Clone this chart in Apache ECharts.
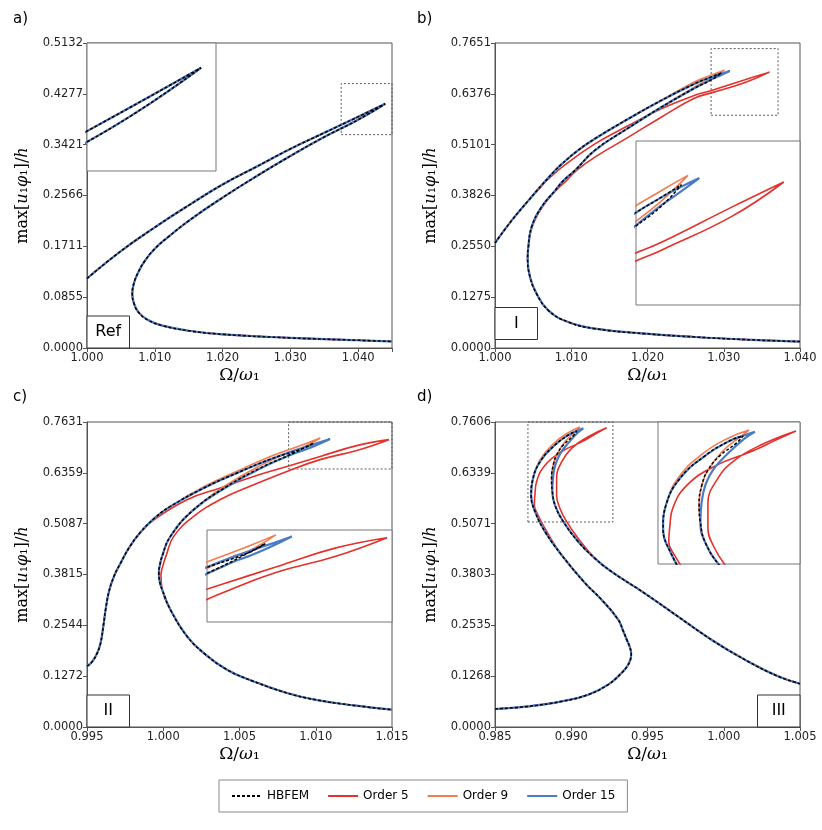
<!DOCTYPE html>
<html><head><meta charset="utf-8">
<script src="https://cdn.jsdelivr.net/npm/echarts@6/dist/echarts.min.js"></script>
<style>html,body{margin:0;padding:0;background:#fff}#c{width:822px;height:830px}</style>
</head><body><div id="c"></div>
<script>
// ---------- tick labels ----------
const aXTicks = ['1.000','1.010','1.020','1.030','1.040'];
const bXTicks = ['1.000','1.010','1.020','1.030','1.040'];
const cXTicks = ['0.995','1.000','1.005','1.010','1.015'];
const dXTicks = ['0.985','0.990','0.995','1.000','1.005'];
const aYTicks = ['0.0000','0.0855','0.1711','0.2566','0.3421','0.4277','0.5132'];
const bYTicks = ['0.0000','0.1275','0.2550','0.3826','0.5101','0.6376','0.7651'];
const cYTicks = ['0.0000','0.1272','0.2544','0.3815','0.5087','0.6359','0.7631'];
const dYTicks = ['0.0000','0.1268','0.2535','0.3803','0.5071','0.6339','0.7606'];
const legendNames = ['HBFEM','Order 5','Order 9','Order 15'];

// ---------- panel a (Ref): all models coincide ----------
const a_upper = [[1.000,0.117],[1.005,0.163],[1.010,0.203],[1.015,0.240],[1.020,0.275],[1.025,0.305],[1.030,0.335],[1.035,0.362],[1.040,0.389],[1.044,0.411]];
const a_return = [[1.040,0.384],[1.035,0.355],[1.030,0.323],[1.025,0.289],[1.020,0.253],[1.015,0.214],[1.012,0.187],[1.010,0.167],[1.0085,0.146],[1.0075,0.126],[1.0069,0.108],[1.00668,0.0915],[1.0069,0.076],[1.0076,0.060],[1.009,0.047],[1.011,0.038],[1.015,0.029],[1.020,0.023],[1.030,0.017],[1.040,0.013],[1.045,0.011]];

// ---------- panel b (I) ----------
const b_upper = [[1.0000,0.2634],[1.0022,0.3202],[1.0044,0.3703],[1.0061,0.4080],[1.0079,0.4456],[1.0087,0.4605],[1.0108,0.4945],[1.0131,0.525],[1.0175,0.575],[1.0218,0.621]];
const b_top_hbfem = [[1.0262,0.663],[1.0284,0.680],[1.0297,0.690],[1.0284,0.673],[1.0262,0.652]];
const b_top_o9 = [[1.0262,0.668],[1.0284,0.685],[1.0301,0.697],[1.0284,0.677],[1.0262,0.655]];
const b_top_o15 = [[1.0262,0.663],[1.0284,0.680],[1.0308,0.695],[1.0290,0.679],[1.0284,0.674],[1.0262,0.652]];
const b_returnMid = [[1.0218,0.604],[1.0175,0.552],[1.0131,0.496],[1.0105,0.4456],[1.0090,0.4205],[1.0079,0.3954],[1.0061,0.3536],[1.0048,0.3035]];
const b_tail = [[1.00437,0.2533],[1.00428,0.224],[1.00459,0.178],[1.00546,0.136],[1.00699,0.0945],[1.0096,0.065],[1.0131,0.0485],[1.0197,0.036],[1.0262,0.0276],[1.033,0.021],[1.040,0.016]];
const b_o5_loop = [[1.0062,0.408],[1.0068,0.4205],[1.0092,0.460],[1.0131,0.512],[1.0175,0.558],[1.0218,0.600],[1.0262,0.634],[1.0284,0.646],[1.0328,0.673],[1.0360,0.692],[1.0328,0.666],[1.0284,0.640],[1.0262,0.627],[1.0218,0.579],[1.0175,0.529],[1.0131,0.479],[1.0107,0.4456],[1.0094,0.4205],[1.0080,0.3954],[1.0062,0.3536],[1.00487,0.3035]];

// ---------- panel c (II) ----------
const c_upper = [[0.9950,0.152],[0.99535,0.164],[0.99567,0.185],[0.99589,0.210],[0.99607,0.252],[0.99622,0.2935],[0.99644,0.339],[0.99677,0.377],[0.9972,0.410],[0.9978,0.451],[0.9985,0.487],[0.9995,0.525],[1.00047,0.552]];
const c_top_hbfem = [[1.00266,0.598],[1.00484,0.6355],[1.00702,0.670],[1.0092,0.6975],[1.00986,0.7106],[1.00855,0.6855],[1.00636,0.648],[1.00418,0.602]];
const c_top_o9 = [[1.00266,0.601],[1.00484,0.640],[1.00702,0.677],[1.0092,0.707],[1.01029,0.723],[1.0092,0.700],[1.00855,0.692],[1.00636,0.654],[1.00418,0.606]];
const c_top_o15 = [[1.00266,0.598],[1.00484,0.6355],[1.00702,0.670],[1.0092,0.6995],[1.0100,0.709],[1.01094,0.7206],[1.0100,0.7045],[1.0092,0.6925],[1.00855,0.684],[1.00636,0.647],[1.00418,0.601]];
const c_returnMid = [[1.0020,0.5437],[1.00047,0.477],[0.99995,0.430],[0.99975,0.400],[0.99971,0.385],[0.99978,0.362],[0.99993,0.3435]];
const c_tail = [[1.00047,0.2935],[1.00156,0.2267],[1.00266,0.185],[1.00418,0.1434],[1.00593,0.114],[1.00811,0.085],[1.0100,0.068],[1.0125,0.054],[1.0150,0.0433]];
const c_o5_loop = [[0.9993,0.516],[1.00156,0.5687],[1.00374,0.598],[1.00593,0.627],[1.00811,0.652],[1.01029,0.677],[1.01269,0.704],[1.0148,0.719],[1.01269,0.692],[1.01029,0.669],[1.00811,0.6395],[1.00593,0.606],[1.00374,0.569],[1.0020,0.527],[1.00069,0.477],[1.0002,0.430],[0.99995,0.400],[0.99985,0.380],[0.99993,0.3435]];

// ---------- panel d (III) ----------
const d_head = [[0.9850,0.0449],[0.98718,0.0514],[0.98937,0.0639],[0.99111,0.0806],[0.99242,0.1055],[0.9933,0.1347],[0.99368,0.152],[0.99388,0.168],[0.99393,0.182],[0.99385,0.198],[0.99365,0.217],[0.99340,0.240],[0.99308,0.2676],[0.99199,0.3175],[0.9909,0.3591],[0.98937,0.4288]];
const d_top_hbfem = [[0.98828,0.4871],[0.98765,0.535],[0.98737,0.578],[0.98748,0.618],[0.988,0.664],[0.98893,0.7031],[0.9898,0.7281],[0.99035,0.7381],[0.99013,0.7264],[0.98948,0.7031],[0.98904,0.6782],[0.98882,0.6532],[0.98871,0.620],[0.98876,0.5868],[0.98893,0.5535],[0.98948,0.512],[0.99046,0.4622]];
const d_top_o9 = [[0.98828,0.4871],[0.98765,0.535],[0.98737,0.578],[0.98748,0.618],[0.98795,0.666],[0.98885,0.707],[0.98975,0.733],[0.99057,0.748],[0.9903,0.738],[0.9896,0.712],[0.98904,0.6782],[0.98882,0.6532],[0.98871,0.620],[0.98876,0.5868],[0.98893,0.5535],[0.98948,0.512],[0.99046,0.4622]];
const d_top_o15 = [[0.98828,0.4871],[0.98765,0.535],[0.98737,0.578],[0.98748,0.618],[0.988,0.664],[0.98893,0.7031],[0.9898,0.7281],[0.9904,0.739],[0.99079,0.745],[0.9904,0.733],[0.9898,0.708],[0.98925,0.680],[0.98895,0.653],[0.9888,0.620],[0.98876,0.5868],[0.98893,0.5535],[0.98948,0.512],[0.99046,0.4622]];
const d_top_o5 = [[0.9884,0.487],[0.9878,0.530],[0.98758,0.5536],[0.98762,0.580],[0.98773,0.612],[0.98828,0.653],[0.98937,0.687],[0.99068,0.711],[0.99155,0.730],[0.99232,0.7464],[0.99111,0.724],[0.99002,0.695],[0.98937,0.661],[0.98904,0.620],[0.98904,0.578],[0.98926,0.545],[0.9897,0.512],[0.99046,0.470]];
const d_tail = [[0.99155,0.4206],[0.99264,0.3874],[0.99482,0.3333],[0.99701,0.2751],[0.99919,0.2177],[1.00138,0.168],[1.00356,0.1263],[1.005,0.108]];

// ---------- assembled curves ----------
const a_curve = a_upper.concat(a_return);
const curves = {
  a: {hbfem: a_curve, o5: a_curve, o9: a_curve, o15: a_curve},
  b: {hbfem: b_upper.concat(b_top_hbfem, b_returnMid, b_tail),
      o5: b_upper.slice(0,3).concat(b_o5_loop, b_tail),
      o9: b_upper.concat(b_top_o9, b_returnMid, b_tail),
      o15: b_upper.concat(b_top_o15, b_returnMid, b_tail)},
  c: {hbfem: c_upper.concat(c_top_hbfem, c_returnMid, c_tail),
      o5: c_upper.slice(0,11).concat(c_o5_loop, c_tail),
      o9: c_upper.concat(c_top_o9, c_returnMid, c_tail),
      o15: c_upper.concat(c_top_o15, c_returnMid, c_tail)},
  d: {hbfem: d_head.concat(d_top_hbfem, d_tail),
      o5: d_head.concat(d_top_o5, d_tail),
      o9: d_head.concat(d_top_o9, d_tail),
      o15: d_head.concat(d_top_o15, d_tail)}
};

// ---------- layout / styles ----------
const panels = [
  {k:'a', letter:'a)', g:{left:87,top:43,width:305,height:305}, xmin:1.000, xmax:1.045, xint:0.010, xt:aXTicks, yt:aYTicks,
   inset:{g:{left:87,top:43,width:129,height:128}, x:[1.0375,1.04485], y:[0.3531,0.4249]},
   rect:[[1.0375,0.359],[1.045,0.4449]], box:{text:'Ref', dy:0, right:false}},
  {k:'b', letter:'b)', g:{left:495,top:43,width:305,height:305}, xmin:1.000, xmax:1.040, xint:0.010, xt:bXTicks, yt:bYTicks,
   inset:{g:{left:636,top:141,width:164,height:164}, x:[1.0269,1.0370], y:[0.599,0.723]},
   rect:[[1.02834,0.5838],[1.03712,0.7511]], box:{text:'I', dy:-8.5, right:false}},
  {k:'c', letter:'c)', g:{left:87,top:422,width:305,height:305}, xmin:0.995, xmax:1.015, xint:0.005, xt:cXTicks, yt:cYTicks,
   inset:{g:{left:207,top:530,width:185,height:92}, x:[1.0075,1.0150], y:[0.598,0.730]},
   rect:[[1.00822,0.6455],[1.015,0.7631]], box:{text:'II', dy:0, right:false}},
  {k:'d', letter:'d)', g:{left:495,top:422,width:305,height:305}, xmin:0.985, xmax:1.005, xint:0.005, xt:dXTicks, yt:dYTicks,
   inset:{g:{left:658,top:422,width:142,height:142}, x:[0.98718,0.99247], y:[0.515,0.762]},
   rect:[[0.98716,0.5112],[0.99273,0.7606]], box:{text:'III', dy:0, right:true}}
];
const COL = {hbfem:'#000000', o5:'#e3312b', o9:'#f47b4e', o15:'#4a7cc4'};
const NAME = {hbfem:'HBFEM', o5:'Order 5', o9:'Order 9', o15:'Order 15'};
const STYLE = {
  o5:{width:1.6, type:'solid', z:2},
  o9:{width:1.6, type:'solid', z:3},
  o15:{width:2.2, type:'solid', z:4},
  hbfem:{width:1.5, type:[3,2], z:5}
};
const SMOOTH = 0.45;
const AX = '#555';
const serif = 'DejaVu Serif';
const richY = {
  r:{fontFamily:serif, fontSize:16, color:'#000'},
  i:{fontFamily:serif, fontSize:16, fontStyle:'italic', color:'#000'}
};
const richX = {
  r:{fontFamily:serif, fontSize:17, color:'#000'},
  i:{fontFamily:serif, fontSize:17, fontStyle:'italic', color:'#000'}
};
const yName = '{r|max[}{i|u}{r|₁}{i|φ}{r|₁}{r|]/}{i|h}';
const xName = '{r|Ω/}{i|ω}{r|₁}';

const grid=[], xAxis=[], yAxis=[], series=[], graphic=[];
panels.forEach((p,i)=>{
  grid.push(Object.assign({show:true, borderColor:AX, borderWidth:1, backgroundColor:'#fff', containLabel:false}, p.g));
  const ymax = parseFloat(p.yt[p.yt.length-1]);
  const yint = ymax/6;
  xAxis.push({type:'value', gridIndex:i, min:p.xmin, max:p.xmax, interval:p.xint,
    name:xName, nameLocation:'middle', nameGap:19, nameTextStyle:{rich:richX},
    axisLine:{show:true, onZero:false, lineStyle:{color:AX, width:1}},
    axisTick:{show:true, length:4, lineStyle:{color:AX}},
    axisLabel:{margin:4, fontFamily:'DejaVu Sans', fontSize:11.5, color:'#222',
      formatter:(v)=>{const s=v.toFixed(3); return p.xt.includes(s)?s:'';}},
    splitLine:{show:false}});
  yAxis.push({type:'value', gridIndex:i, min:0, max:ymax, interval:yint,
    name:yName, nameLocation:'middle', nameGap:56, nameRotate:90, nameTextStyle:{rich:richY},
    axisLine:{show:true, onZero:false, lineStyle:{color:AX, width:1}},
    axisTick:{show:true, length:4, lineStyle:{color:AX}},
    axisLabel:{margin:4, fontFamily:'DejaVu Sans', fontSize:11.5, color:'#222',
      formatter:(v)=>p.yt[Math.round(v/yint)]||''},
    splitLine:{show:false}});
  ['o5','o9','o15','hbfem'].forEach(key=>{
    const s = {type:'line', name:NAME[key], data:curves[p.k][key], xAxisIndex:i, yAxisIndex:i,
      symbol:'none', showSymbol:false, smooth:SMOOTH, clip:true, z:STYLE[key].z,
      lineStyle:{color:COL[key], width:STYLE[key].width, type:STYLE[key].type},
      itemStyle:{color:COL[key]}, emphasis:{disabled:true}};
    if(key==='hbfem'){
      s.markArea = {silent:true, itemStyle:{color:'rgba(0,0,0,0)', borderColor:'#333', borderWidth:0.8, borderType:[2,2]},
        data:[[{coord:p.rect[0]},{coord:p.rect[1]}]]};
    }
    series.push(s);
  });
  const bw=42.5, bh=32;
  const bx = p.box.right ? p.g.left+p.g.width-bw : p.g.left;
  const by = p.g.top+p.g.height-bh+p.box.dy;
  graphic.push({type:'rect', shape:{x:bx, y:by, width:bw, height:bh}, style:{fill:'#fff', stroke:'#333', lineWidth:1}, z:100});
  graphic.push({type:'text', x:bx+bw/2, y:by+bh/2, style:{text:p.box.text, fontFamily:'DejaVu Sans', fontSize:16, fill:'#000', align:'center', verticalAlign:'middle'}, z:101});
  graphic.push({type:'text', x:(i%2===0?13:417), y:(i<2?19:397), style:{text:p.letter, fontFamily:'DejaVu Sans', fontSize:15, fill:'#000', align:'left', verticalAlign:'middle'}, z:101});
});
// insets
panels.forEach((p,i)=>{
  const gi = 4+i;
  grid.push(Object.assign({show:true, borderColor:'#777', borderWidth:1, backgroundColor:'#fff', containLabel:false, z:10}, p.inset.g));
  xAxis.push({type:'value', gridIndex:gi, min:p.inset.x[0], max:p.inset.x[1], show:false, splitLine:{show:false}});
  yAxis.push({type:'value', gridIndex:gi, min:p.inset.y[0], max:p.inset.y[1], show:false, splitLine:{show:false}});
  ['o5','o9','o15','hbfem'].forEach(key=>{
    series.push({type:'line', name:NAME[key], data:curves[p.k][key], xAxisIndex:gi, yAxisIndex:gi,
      symbol:'none', showSymbol:false, smooth:SMOOTH, clip:true, z:10+STYLE[key].z,
      lineStyle:{color:COL[key], width:STYLE[key].width, type:STYLE[key].type},
      itemStyle:{color:COL[key]}, emphasis:{disabled:true}});
  });
});

const option = {
  animation:false,
  backgroundColor:'#fff',
  grid, xAxis, yAxis, series, graphic,
  legend:{data:legendNames, left:219, top:780, orient:'horizontal', padding:[10,12,10,12], itemGap:18,
    itemWidth:30, itemHeight:14, borderColor:'#888', borderWidth:1, borderRadius:0, backgroundColor:'#fff',
    itemStyle:{opacity:0},
    textStyle:{fontFamily:'DejaVu Sans', fontSize:12, color:'#000'}, selectedMode:false}
};
const chart = echarts.init(document.getElementById('c'), null, {renderer:'canvas'});
chart.setOption(option);
</script></body></html>
